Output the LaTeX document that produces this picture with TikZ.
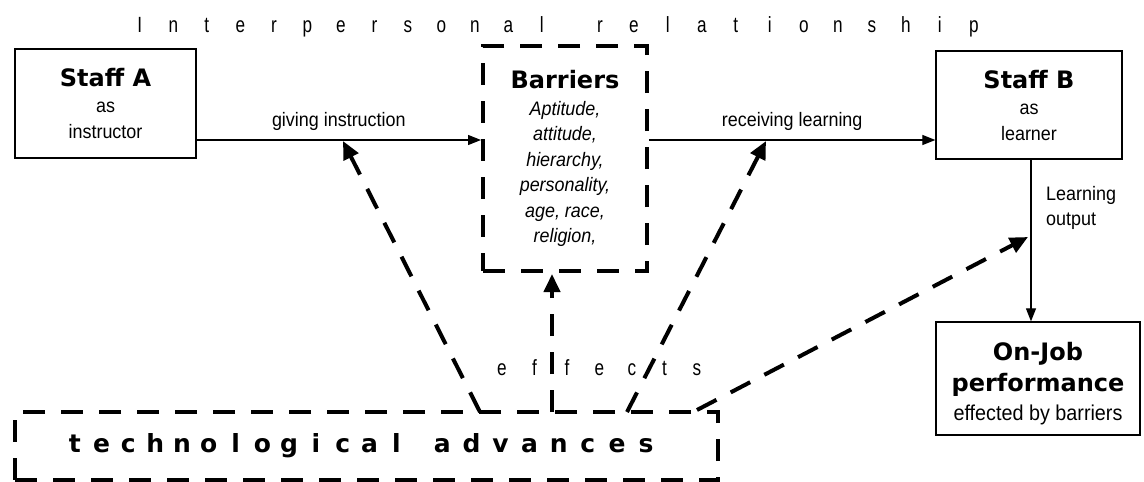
\documentclass[tikz,border=0pt]{standalone}
\usepackage{fontspec}
\setmainfont{Liberation Sans}[FakeStretch=0.92]
\newfontfamily\nar{Liberation Sans}[FakeStretch=0.78]
\newfontfamily\dv{DejaVu Sans}
\usetikzlibrary{arrows.meta}
\newcommand\spaced[2]{\foreach \c in {#2}{\makebox[#1]{\c}}}
\begin{document}
\begin{tikzpicture}[x=1pt,y=-1pt,
  solidbox/.style={draw,line width=1.3pt,inner sep=0pt,align=center},
  dashbox/.style={draw,line width=4pt,dash pattern=on 22pt off 16pt,inner sep=0pt,align=center},
  thin/.style={line width=1.2pt,-{Triangle[length=13pt,width=10pt]}},
  thick/.style={line width=4pt,dash pattern=on 22pt off 16pt,-{Triangle[length=18pt,width=16pt]}},
  lbl/.style={font=\fontsize{19.5}{22}\selectfont,inner sep=0pt},
  sp/.style={font=\nar\fontsize{22}{24}\selectfont,inner sep=0pt}]
\useasboundingbox (0,0) rectangle (1144,482);
\newcommand\tl{\dv\bfseries\fontsize{24}{25}\selectfont}

% top spaced text
\node[sp,anchor=base] (ip) at (557,32) {\spaced{33.5pt}{I,n,t,e,r,p,e,r,s,o,n,a,l}\hspace{24.25pt}\spaced{34pt}{r,e,l,a,t,i,o,n,s,h,i,p}};

% boxes
\node[solidbox,minimum width=181pt,minimum height=109pt,font=\fontsize{19.5}{26}\selectfont] (A) at (105.5,103.5)
  {{\tl Staff A}\\as\\instructor};
\node[solidbox,minimum width=186pt,minimum height=108pt,font=\fontsize{19.5}{26}\selectfont] (B) at (1029,105)
  {{\tl Staff B}\\as\\learner};
\node[dashbox,minimum width=164pt,minimum height=225pt,font=\fontsize{19.5}{25.4}\selectfont] (bar) at (565,158.5)
  {{\tl Barriers}\\[1.6pt]\itshape Aptitude,\\\itshape attitude,\\\itshape hierarchy,\\\itshape personality,\\\itshape age, race,\\\itshape religion,};
\node[solidbox,minimum width=204pt,minimum height=113pt,font=\fontsize{21.5}{28.5}\selectfont] (J) at (1038,378.5)
  {\rule{0pt}{28pt}{\tl On-Job}\\[2.5pt]{\tl performance}\\effected by barriers};
\node[dashbox,minimum width=703pt,minimum height=68pt] (tech) at (366.5,446)
  {\hspace*{-11pt}{\dv\bfseries\fontsize{25}{26}\selectfont\spaced{26.8pt}{t,e,c,h,n,o,l,o,g,i,c,a,l}\hspace{18pt}\spaced{29.1pt}{a,d,v,a,n,c,e,s}}};

% effects
\node[sp,anchor=base] (eff) at (599.5,375) {\spaced{32.5pt}{e,f,f,e,c,t,s}};

% solid arrows
\draw[thin] (A.east |- 0,140) -- node[lbl,above=9pt] (gil) {giving instruction} (bar.west |- 0,140);
\draw[thin] (bar.east |- 0,140) -- node[lbl,above=9pt] (rll) {receiving learning} (B.west |- 0,140);
\draw[thin] (B.south -| 1031,0) -- (J.north -| 1031,0);
\node[lbl,anchor=base west,align=left,font=\fontsize{19.5}{25}\selectfont] (lo) at (1046,225) {Learning\\output};

% coordinates
\coordinate (gi) at (343,141);
\coordinate (rl) at (766,141);
\coordinate (bs) at (552,274);
\coordinate (lp) at (1028,237);
\coordinate (t1) at (480,412);
\coordinate (t2) at (552,412);
\coordinate (t3) at (627,412);
\coordinate (t4) at (697,410);

% dashed arrows
\draw[thick] (t1) -- (gi);
\draw[thick] (t2) -- (bs);
\draw[thick] (t3) -- (rl);
\draw[thick] (t4) -- (lp);
\end{tikzpicture}
\end{document}
